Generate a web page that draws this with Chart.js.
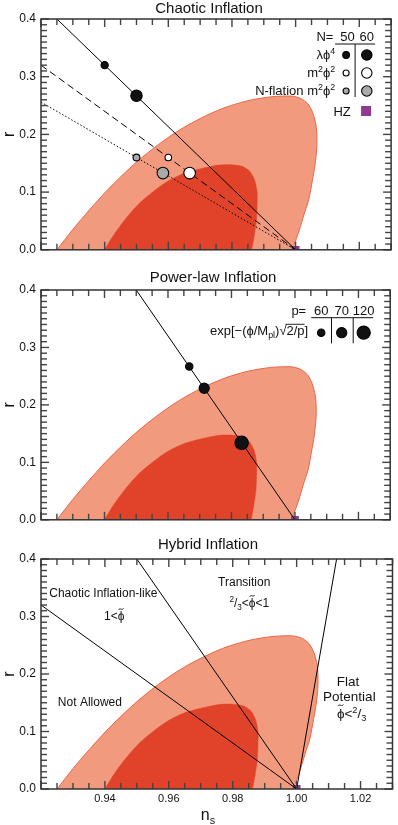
<!DOCTYPE html>
<html>
<head>
<meta charset="utf-8">
<script src="https://cdn.jsdelivr.net/npm/chart.js@4.4.1/dist/chart.umd.min.js"></script>
<style>
  body { margin: 0; background: #fff; }
  canvas { display: block; }
</style>
</head>
<body>
<canvas id="chaotic" width="398" height="262"></canvas>
<canvas id="powerlaw" width="398" height="270"></canvas>
<canvas id="hybrid" width="398" height="293"></canvas>
<script>
// ---- data ----
// 68% / 95% contours (ns, r), traced clockwise from the bottom left
const c95Ns = [0.9250, 0.9300, 0.9352, 0.9403, 0.9454, 0.9506, 0.9557, 0.9608, 0.9659, 0.9721, 0.9782, 0.9854, 0.9926, 0.9988, 1.0016, 1.0039, 1.0054, 1.0064, 1.0067, 1.0066, 1.0061, 1.0053, 1.0041, 1.0026, 1.0012, 1.0001, 0.9990];
const c95R  = [0.0,    0.0353, 0.0691, 0.1003, 0.1285, 0.1548, 0.1775, 0.1978, 0.2154, 0.2331, 0.2473, 0.2589, 0.2653, 0.2663, 0.2623, 0.2528, 0.2372, 0.2165, 0.1957, 0.1732, 0.1472, 0.1212, 0.0866, 0.0606, 0.0346, 0.0173, 0.0];
const c68Ns = [0.9400, 0.9429, 0.9466, 0.9506, 0.9552, 0.9598, 0.9650, 0.9706, 0.9758, 0.9798, 0.9832, 0.9856, 0.9871, 0.9879, 0.9879, 0.9877, 0.9870, 0.9862];
const c68R  = [0.0,    0.0260, 0.0537, 0.0788, 0.1004, 0.1186, 0.1325, 0.1411, 0.1468, 0.1475, 0.1446, 0.1359, 0.1212, 0.1004, 0.0779, 0.0519, 0.0242, 0.0];

// chaotic inflation
const nValues = ['50', '60'];
const lambdaLineNs = [0.925, 1.0], lambdaLineR = [0.4, 0.0];
const m2LineNs = [0.92, 1.0],      m2LineR = [0.32, 0.0];
const nflLineNs = [0.92, 1.0],     nflLineR = [0.256, 0.0];
const lambdaPtsNs = [0.94, 0.95],  lambdaPtsR = [0.32, 0.267];
const m2PtsNs = [0.96, 0.9667],    m2PtsR = [0.16, 0.133];
const nflPtsNs = [0.95, 0.9583],   nflPtsR = [0.16, 0.133];
const hzNs = [1.0], hzR = [0.0];

// power-law inflation
const pValues = ['60', '70', '120'];
const plLineNs = [0.95, 1.0], plLineR = [0.4, 0.0];
const plPtsNs = [0.9667, 0.9714, 0.9832], plPtsR = [0.267, 0.229, 0.134];

// hybrid inflation boundaries
const hybChaoticNs = [0.92, 1.0],   hybChaoticR = [0.32, 0.0];
const hybTransNs = [0.95, 1.0],     hybTransR = [0.4, 0.0];
const hybFlatNs = [1.0, 1.0125],    hybFlatR = [0.0, 0.4];

const xTicks = [0.94, 0.96, 0.98, 1.00, 1.02];
const yTicks = [0.0, 0.1, 0.2, 0.3, 0.4];

// ---- helpers ----
const FONT = "'Liberation Sans', Arial, Helvetica, sans-serif";
Chart.defaults.font.family = FONT;
Chart.defaults.color = '#111';

const pts = (xs, ys) => xs.map((x, i) => ({x, y: ys[i]}));

const PURPLE = '#8d3a8f';
const LIGHT = '#f29a7d', DARK = '#e0432a', EDGE = '#ea6646';
const PHI = 'ϕ';

function contourSets() {
  return [
    {data: pts(c68Ns, c68R), showLine: true, fill: 'shape', backgroundColor: DARK, borderColor: DARK,
     borderWidth: 0.5, pointRadius: 0, tension: 0.25, clip: 0, order: 9},
    {data: pts(c95Ns, c95R), showLine: true, fill: 'shape', backgroundColor: LIGHT, borderColor: EDGE,
     borderWidth: 1, pointRadius: 0, tension: 0.25, clip: 0, order: 10}
  ];
}
function lineSet(xs, ys, dash) {
  return {data: pts(xs, ys), showLine: true, fill: false, borderColor: '#000', borderWidth: 1,
          borderDash: dash || [], pointRadius: 0, clip: 0, order: 5};
}
function dotSet(xs, ys, radii, fillCol) {
  return {data: pts(xs, ys), showLine: false, pointRadius: radii, pointBackgroundColor: fillCol,
          pointBorderColor: '#000', pointBorderWidth: 1.1, order: 2};
}
function hzSet() {
  // drawn under the model lines, above the contours
  return {data: pts(hzNs, hzR), showLine: false, pointStyle: 'rect', pointRadius: 5.5,
          pointBackgroundColor: PURPLE, pointBorderWidth: 0, clip: 0, order: 6};
}

// rich text: segs = [[text, mode]], mode '', 'sup', 'sub', 'over', 'tilde'; y is the baseline
function drawRich(ctx, segs, x, y, size, align) {
  let w = 0;
  const parts = segs.map(([t, m]) => {
    const s = (m === 'sup' || m === 'sub') ? size * 0.68 : size;
    ctx.font = s + 'px ' + FONT;
    const pw = ctx.measureText(t).width;
    w += pw;
    return {t, m, s, w: pw};
  });
  let cx = align === 'right' ? x - w : align === 'center' ? x - w / 2 : x;
  ctx.textAlign = 'left';
  ctx.textBaseline = 'alphabetic';
  parts.forEach(p => {
    ctx.font = p.s + 'px ' + FONT;
    const dy = p.m === 'sup' ? -size * 0.38 : p.m === 'sub' ? size * 0.22 : 0;
    ctx.fillText(p.t, cx, y + dy);
    if (p.m === 'over') ctx.fillRect(cx - 1, y - size * 0.86, p.w + 1, 0.9);
    if (p.m === 'tilde') {
      const tx = cx + p.w / 2, ty = y - size * 0.93, tw = size * 0.2;
      ctx.save();
      ctx.beginPath();
      ctx.moveTo(tx - tw, ty + 0.8);
      ctx.bezierCurveTo(tx - tw / 2, ty - 2, tx + tw / 2, ty + 2, tx + tw, ty - 0.8);
      ctx.lineWidth = 0.9;
      ctx.strokeStyle = ctx.fillStyle;
      ctx.stroke();
      ctx.restore();
    }
    cx += p.w;
  });
}
function dot(ctx, x, y, r, fillCol) {
  ctx.beginPath();
  ctx.arc(x, y, r, 0, Math.PI * 2);
  ctx.fillStyle = fillCol;
  ctx.fill();
  ctx.lineWidth = 1.1;
  ctx.strokeStyle = '#000';
  ctx.stroke();
  ctx.fillStyle = '#111';
}
function seg(ctx, x1, y1, x2, y2) {
  ctx.beginPath();
  ctx.moveTo(x1, y1);
  ctx.lineTo(x2, y2);
  ctx.lineWidth = 1;
  ctx.strokeStyle = '#111';
  ctx.stroke();
}

// inward tick marks on all four sides + frame (drawn last, on top of everything)
function drawFrame(chart) {
  const ctx = chart.ctx, a = chart.chartArea;
  const xs = chart.scales.x, ys = chart.scales.y;
  ctx.save();
  ctx.fillStyle = '#444';
  for (let i = 0; i <= 22; i++) {
    const px = xs.getPixelForValue(0.92 + i * 0.005);
    const len = i % 4 === 0 ? 8 : 6;
    ctx.fillRect(px - 0.7, a.bottom - len, 1.4, len);
    ctx.fillRect(px - 0.7, a.top, 1.4, len);
  }
  for (let i = 0; i <= 40; i++) {
    const py = ys.getPixelForValue(i * 0.01);
    const len = i % 10 === 0 ? 8 : 6;
    ctx.fillRect(a.left, py - 0.7, len, 1.4);
    ctx.fillRect(a.right - len, py - 0.7, len, 1.4);
  }
  ctx.strokeStyle = '#333';
  ctx.lineWidth = 1.5;
  ctx.strokeRect(a.left, a.top, a.right - a.left, a.bottom - a.top);
  ctx.restore();
}

function textPlugin(draw) {
  return {id: 'texts', afterDraw(chart) {
    drawFrame(chart);
    const ctx = chart.ctx;
    ctx.save();
    ctx.fillStyle = '#111';
    draw(chart, ctx, chart.chartArea);
    ctx.restore();
  }};
}

function makeOptions(showX, topPad) {
  return {
    responsive: false,
    animation: false,
    events: [],
    devicePixelRatio: 1,
    layout: {padding: {top: topPad, right: 1, left: 0, bottom: 0}},
    plugins: {legend: {display: false}, tooltip: {enabled: false}},
    scales: {
      x: {
        type: 'linear', min: 0.92, max: 1.03,
        grid: {display: false, drawTicks: false}, border: {display: false},
        afterBuildTicks: s => { s.ticks = xTicks.map(v => ({value: v})); },
        afterFit: s => { s.height = showX ? 36 : 12; },
        ticks: {display: showX, autoSkip: false, maxRotation: 0, padding: 3,
                font: {size: 11}, color: '#111', callback: v => v.toFixed(2)}
      },
      y: {
        type: 'linear', min: 0, max: 0.4,
        grid: {display: false, drawTicks: false}, border: {display: false},
        afterBuildTicks: s => { s.ticks = yTicks.map(v => ({value: v})); },
        afterFit: s => { s.width = 41; },
        ticks: {padding: 5, font: {size: 12}, color: '#111', callback: v => v.toFixed(1)},
        title: {display: true, text: 'r', font: {size: 16}, color: '#111', padding: 0}
      }
    }
  };
}

// ---- Chaotic Inflation ----
new Chart(document.getElementById('chaotic'), {
  type: 'scatter',
  data: {datasets: [
    ...contourSets(),
    lineSet(lambdaLineNs, lambdaLineR),
    lineSet(m2LineNs, m2LineR, [7, 4]),
    lineSet(nflLineNs, nflLineR, [1.5, 2]),
    dotSet(lambdaPtsNs, lambdaPtsR, [3.6, 5.7], '#111'),
    dotSet(m2PtsNs, m2PtsR, [3.3, 5.8], '#fff'),
    dotSet(nflPtsNs, nflPtsR, [3.4, 5.8], '#aaa'),
    hzSet()
  ]},
  options: makeOptions(false, 19),
  plugins: [textPlugin((chart, ctx, a) => {
    drawRich(ctx, [['Chaotic Inflation', '']], a.left + 168, 13.3, 15, 'center');
    const R = a.right, T = a.top;
    drawRich(ctx, [['N=', '']], R - 57.7, T + 21.7, 13, 'right');
    drawRich(ctx, [[nValues[0], '']], R - 43.7, T + 21.7, 13, 'center');
    drawRich(ctx, [[nValues[1], '']], R - 24.3, T + 21.7, 13, 'center');
    seg(ctx, R - 56, T + 25, R - 16, T + 25);
    seg(ctx, R - 36, T + 25, R - 36, T + 78);
    const rows = [
      {segs: [['λ' + PHI, ''], ['4', 'sup']], col: '#111', r: [3.4, 5.2]},
      {segs: [['m', ''], ['2', 'sup'], [PHI, ''], ['2', 'sup']], col: '#fff', r: [3.0, 5.2]},
      {segs: [['N-flation m', ''], ['2', 'sup'], [PHI, ''], ['2', 'sup']], col: '#aaa', r: [3.0, 5.2]}
    ];
    rows.forEach((row, i) => {
      const yb = T + 40.3 + i * 18;
      drawRich(ctx, row.segs, R - 56, yb, 13, 'right');
      dot(ctx, R - 45, yb - 4.3, row.r[0], row.col);
      dot(ctx, R - 24.3, yb - 4.3, row.r[1], row.col);
    });
    drawRich(ctx, [['HZ', '']], R - 40.3, T + 97, 13, 'right');
    ctx.fillStyle = PURPLE;
    ctx.fillRect(R - 30, T + 87, 10, 10);
  })]
});

// ---- Power-law Inflation ----
new Chart(document.getElementById('powerlaw'), {
  type: 'scatter',
  data: {datasets: [
    ...contourSets(),
    lineSet(plLineNs, plLineR),
    dotSet(plPtsNs, plPtsR, [3.7, 5.1, 6.7], '#111'),
    hzSet()
  ]},
  options: makeOptions(false, 28),
  plugins: [textPlugin((chart, ctx, a) => {
    drawRich(ctx, [['Power-law Inflation', '']], a.left + 172, 19.5, 15, 'center');
    const R = a.right, T = a.top;
    drawRich(ctx, [['p=', '']], R - 84, T + 25, 13, 'right');
    const cols = [R - 69, R - 48.5, R - 26.5];
    pValues.forEach((p, i) => drawRich(ctx, [[p, '']], cols[i], T + 25, 13, 'center'));
    seg(ctx, R - 79, T + 27.7, R - 17, T + 27.7);
    seg(ctx, R - 58.7, T + 27.7, R - 58.7, T + 53.3);
    seg(ctx, R - 37, T + 27.7, R - 37, T + 53.3);
    drawRich(ctx, [['exp[−(' + PHI + '/M', ''], ['pl', 'sub'], [')√', ''], ['2/p', 'over'], [']', '']], R - 82, T + 45, 13, 'right');
    const radii = [3.7, 5.1, 6.6];
    cols.forEach((cx, i) => dot(ctx, cx, T + 42.7, radii[i], '#111'));
  })]
});

// ---- Hybrid Inflation ----
const hybridLabels = [
  {segs: [['Chaotic Inflation-like', '']], ns: 0.9395, r: 0.3409, size: 12},
  {segs: [['1<', ''], [PHI, 'tilde']], ns: 0.9429, r: 0.3009, size: 12},
  {segs: [['Transition', '']], ns: 0.9836, r: 0.3605, size: 12},
  {segs: [['2', 'sup'], ['/', ''], ['3', 'sub'], ['<', ''], [PHI, 'tilde'], ['<1', '']], ns: 0.9852, r: 0.324, size: 12},
  {segs: [['Not Allowed', '']], ns: 0.9353, r: 0.1518, size: 12},
  {segs: [['Flat', '']], ns: 1.0161, r: 0.1883, size: 13.5},
  {segs: [['Potential', '']], ns: 1.0165, r: 0.1617, size: 13.5},
  {segs: [[PHI, 'tilde'], ['<', ''], ['2', 'sup'], ['/', ''], ['3', 'sub']], ns: 1.0172, r: 0.1322, size: 13.5}
];

new Chart(document.getElementById('hybrid'), {
  type: 'scatter',
  data: {datasets: [
    ...contourSets(),
    lineSet(hybChaoticNs, hybChaoticR),
    lineSet(hybTransNs, hybTransR),
    lineSet(hybFlatNs, hybFlatR),
    hzSet()
  ]},
  options: makeOptions(true, 27),
  plugins: [textPlugin((chart, ctx, a) => {
    drawRich(ctx, [['Hybrid Inflation', '']], a.left + 167, 17.3, 15, 'center');
    const {x, y} = chart.scales;
    hybridLabels.forEach(l => {
      drawRich(ctx, l.segs, x.getPixelForValue(l.ns), y.getPixelForValue(l.r) + l.size * 0.36, l.size, 'center');
    });
    drawRich(ctx, [['n', ''], ['s', 'sub']], a.left + 167, 288, 16, 'center');
  })]
});
</script>
</body>
</html>
